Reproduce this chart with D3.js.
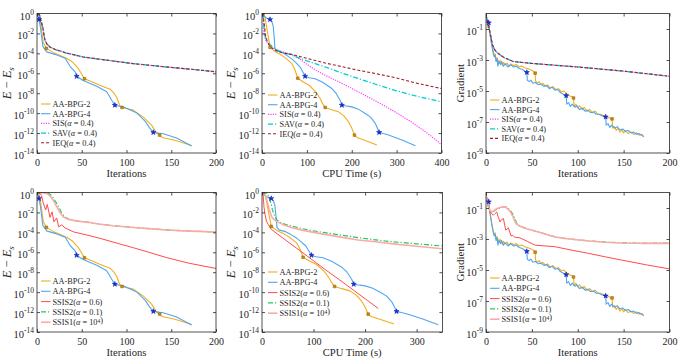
<!DOCTYPE html>
<meta charset="utf-8">
<style>
body { margin: 0; background: #fff; }
svg text { font-family: "Liberation Serif", "DejaVu Serif", serif; fill: #262626; }
.frame { fill: none; stroke: #262626; stroke-width: 0.8; }
.axis path { display: none; }
.axis line { stroke: #262626; stroke-width: 0.8; }
.curve { fill: none; stroke-linejoin: round; stroke-linecap: butt; }
</style>
<svg id="fig" width="692" height="358"></svg>
<script src="https://d3js.org/d3.v7.min.js"></script>
<script>
// tick values
var iterTicks = [0, 50, 100, 150, 200];
var timeTicksTop = [0, 100, 200, 300, 400];
var timeTicksBottom = [0, 100, 200, 300];
var energyExps = [0, -2, -4, -6, -8, -10, -12, -14];
var gradExps = [-1, -3, -5, -7, -9];

// every series is [x, log10(value)]
// E - Es versus iterations
var aa2Iter = [[1,0],[2,-0.1],[3.4,-0.5],[5,-1.6],[7,-2.9],[10.5,-3.5],[20,-4.0],[33,-4.5],[40,-4.9],[46,-5.5],[50,-6.1],[53,-6.55],[60,-6.8],[70,-7.2],[81.6,-7.6],[86,-8.0],[89,-8.4],[92.7,-9.3],[95,-9.43],[107.6,-9.7],[118.8,-10.4],[128,-11.2],[133.7,-12.0],[137,-12.2],[140,-12.45],[155,-12.75],[172.8,-13.25]];
var aa4Iter = [[0.5,-0.1],[2.2,-0.6],[4,-1.5],[6.5,-3.3],[10.8,-3.85],[20,-4.1],[31.5,-4.5],[36.9,-5.3],[42.6,-5.85],[44.3,-6.3],[51,-6.7],[66.7,-7.3],[77.9,-7.85],[83.5,-8.7],[87,-9.2],[96,-9.37],[111,-9.95],[120.7,-10.8],[126,-11.5],[130,-11.93],[141,-12.07],[156,-12.5],[172.8,-13.3]];
var explicitIter = [[1,0],[3,-0.2],[5,-0.9],[6.7,-1.5],[7.9,-2.2],[9,-2.7],[11,-3.05],[14.5,-3.37],[20,-3.6],[33,-3.97],[52,-4.37],[75,-4.65],[107.6,-5.03],[145,-5.37],[175,-5.62],[200,-5.85]];
var ssis06Iter = [[0,0],[3,-0.03],[5,-0.3],[7,-1.05],[9.7,-1.75],[11.5,-1.2],[14.5,-2.5],[16.8,-1.95],[19,-2.95],[22,-2.55],[24.2,-3.45],[27.6,-3.25],[31.3,-3.55],[40.6,-3.95],[55,-4.25],[70.4,-4.6],[92.7,-5.17],[107.6,-5.54],[125,-6.0],[145,-6.54],[170,-7.1],[200,-7.62]];
var ssis01Iter = [[0,0],[8,-0.02],[13,-0.08],[16,-0.3],[18.2,-0.55],[21,-0.95],[23.8,-1.39],[27.6,-2.06],[31.3,-2.5],[37,-2.73],[45,-2.85],[60,-3.02],[70.4,-3.17],[85,-3.33],[107.6,-3.5],[125,-3.62],[145,-3.75],[170,-3.87],[200,-3.96]];
var ssis1Iter = [[0,0],[8,-0.04],[12,-0.15],[15,-0.4],[17,-0.62],[19.5,-1.0],[21.9,-1.39],[25.5,-2.0],[29.5,-2.45],[35,-2.7],[45,-2.87],[60,-3.04],[70.4,-3.18],[85,-3.34],[107.6,-3.51],[125,-3.63],[145,-3.77],[170,-3.88],[200,-3.97]];

// E - Es versus CPU time (s)
var aa2Time = [[1,0],[4,-0.1],[6.7,-0.3],[9,-1.0],[12.7,-2.0],[18,-3.4],[30,-3.85],[44,-4.2],[55,-4.55],[66,-5.0],[72,-5.5],[77.5,-6.2],[79.7,-6.5],[92,-6.87],[105,-7.2],[114.7,-7.63],[122,-8.0],[129.6,-8.53],[135,-9.05],[140.8,-9.43],[155,-9.65],[170.5,-9.87],[183,-10.3],[192.9,-10.87],[200,-11.5],[206,-12.2],[212,-12.45],[230,-12.75],[256,-13.2]];
var aa4Time = [[1,0],[5,-0.3],[10,-0.45],[17.9,-0.6],[22,-0.8],[25,-1.3],[27,-2.3],[29,-3.5],[33,-3.75],[44,-3.9],[55,-4.2],[66.3,-4.55],[76,-4.95],[85,-5.37],[90,-5.8],[96,-6.3],[105,-6.45],[118.4,-6.55],[135,-6.9],[155.7,-7.53],[165,-8.0],[174,-8.7],[178,-9.2],[190,-9.3],[200,-9.37],[215,-9.6],[230,-10.03],[242,-10.4],[252.5,-11.03],[258,-11.6],[261,-11.93],[270,-12.05],[282,-12.2],[300,-12.5],[312,-12.7],[330,-13.05],[342,-13.27]];
var sisTime = [[2,0],[4,-1.4],[5,-2.2],[8,-2.65],[12.7,-2.97],[20,-3.3],[29,-3.6],[45,-3.85],[66,-4.1],[85,-4.6],[103.5,-5.2],[120,-5.7],[140.8,-6.2],[180,-7.05],[215,-7.87],[250,-8.7],[290,-9.7],[330,-10.8],[364,-11.87],[385,-12.6],[398,-13.1]];
var savTime = [[2,0],[4,-1.2],[5.6,-2.0],[10,-2.7],[15,-3.0],[25,-3.4],[34,-3.67],[50,-3.95],[66,-4.17],[100,-4.75],[140.8,-5.37],[180,-6.0],[215,-6.53],[250,-7.05],[290,-7.63],[340,-8.25],[400,-8.87]];
var ieqTime = [[2,0],[3.5,-0.5],[5.6,-1.3],[8,-2.2],[11,-2.7],[15,-3.1],[20,-3.4],[30,-3.7],[45,-3.95],[66,-4.1],[100,-4.5],[140.8,-4.97],[180,-5.35],[215,-5.7],[250,-6.0],[290,-6.37],[340,-6.95],[400,-7.53]];
var ssis06Time = [[0,0],[2,-0.1],[4,-1.5],[6,-2.2],[8.4,-2.85],[12,-3.2],[18,-3.7],[40,-4.55],[70,-5.7],[100,-6.85],[121.8,-7.7],[150,-8.75],[180,-9.9],[205,-10.85],[225.5,-11.64]];
var ssis01Time = [[0,0],[5,-0.03],[10,-0.1],[13,-0.4],[18,-1.17],[20,-1.7],[23,-2.18],[28,-2.7],[35,-3.0],[45,-3.2],[57,-3.36],[80,-3.65],[100,-3.85],[122,-4.03],[150,-4.25],[186.6,-4.53],[220,-4.75],[251,-4.93],[300,-5.15],[350,-5.37]];
var ssis1Time = [[0,0],[4,-0.1],[8,-0.5],[11,-1.1],[15,-1.85],[19,-2.45],[23,-2.7],[30,-2.95],[40,-3.2],[57,-3.52],[80,-3.8],[100,-4.0],[122,-4.2],[150,-4.45],[186.6,-4.77],[220,-4.95],[251,-5.13],[300,-5.4],[350,-5.64]];

// gradient versus iterations
var aa2Grad = [[0,-0.15],[1,-0.4],[2,-0.9],[3,-0.7],[4,-1.3],[5,-1.6],[6,-1.9],[7,-2.2],[8,-2.5],[9,-2.75],[10,-2.6],[11,-3.0],[12,-2.85],[13,-3.3],[14,-3.0],[15,-3.2],[16,-3.05],[18,-3.35],[19,-3.15],[21,-3.3],[23,-3.2],[25,-3.4],[27,-3.25],[30,-3.35],[33,-3.3],[36,-3.45],[39,-3.38],[42,-3.5],[45,-3.55],[48,-3.62],[51,-3.7],[53.6,-3.85],[54,-4.35],[56,-4.5],[58,-4.4],[60,-4.6],[62,-4.5],[65,-4.7],[67,-4.6],[70,-4.8],[73,-4.72],[76,-4.9],[79,-4.85],[82,-5.05],[85,-5.0],[88,-5.2],[91,-5.3],[93,-5.35],[95.4,-5.45],[96,-6.0],[98,-5.85],[100,-6.1],[102,-5.95],[105,-6.2],[107,-6.05],[110,-6.3],[113,-6.2],[116,-6.4],[119,-6.3],[122,-6.5],[125,-6.5],[128,-6.6],[131,-6.65],[134,-6.72],[137.4,-6.8],[138,-7.4],[140,-7.3],[142,-7.55],[144,-7.4],[146,-7.65],[148,-7.5],[150,-7.7],[152,-7.55],[155,-7.75],[158,-7.65],[161,-7.8],[164,-7.7],[167,-7.85],[170,-7.8],[172,-7.95]];
var aa4Grad = [[0,-0.1],[1,-0.5],[2,-0.4],[3,-0.6],[4,-1.1],[5,-1.5],[6,-1.95],[7,-2.3],[8,-2.6],[9,-2.8],[10,-2.7],[11,-3.1],[12,-2.9],[13,-3.4],[14,-3.1],[16,-3.3],[17,-3.1],[19,-3.4],[21,-3.25],[24,-3.45],[27,-3.3],[30,-3.45],[33,-3.4],[36,-3.55],[39,-3.6],[42,-3.7],[44.5,-3.8],[45,-4.3],[47,-4.4],[49,-4.3],[51,-4.5],[54,-4.45],[57,-4.6],[60,-4.55],[63,-4.7],[66,-4.65],[69,-4.85],[72,-4.75],[75,-4.95],[78,-4.9],[81,-5.1],[84,-5.2],[87.4,-5.3],[88,-5.85],[90,-5.75],[92,-6.0],[94,-5.85],[97,-6.05],[99,-5.95],[102,-6.2],[105,-6.1],[108,-6.3],[111,-6.25],[114,-6.4],[117,-6.35],[120,-6.5],[123,-6.5],[126,-6.6],[130.4,-6.67],[131,-7.2],[133,-7.1],[135,-7.35],[137,-7.2],[140,-7.4],[143,-7.3],[146,-7.5],[149,-7.45],[152,-7.6],[155,-7.55],[158,-7.7],[161,-7.65],[164,-7.8],[167,-7.75],[170,-7.88],[172,-7.95]];
var explicitGrad = [[0,-0.1],[2,-0.6],[3,-0.85],[5,-1.4],[7,-2.0],[9,-2.3],[11,-2.45],[13,-2.56],[16,-2.7],[20,-2.85],[24,-2.95],[30,-3.1],[50,-3.22],[100,-3.45],[150,-3.72],[200,-4.05]];
var ssis06Grad = [[0,-0.08],[2,-0.7],[4.4,-1.26],[6,-1.35],[8,-1.47],[10,-1.35],[11.7,-1.26],[13.5,-1.6],[15.3,-1.9],[17,-1.75],[19,-1.68],[21.5,-2.43],[24.4,-2.28],[27.3,-2.8],[29,-2.75],[31,-2.88],[37,-2.93],[45,-3.15],[53.6,-3.4],[65,-3.45],[75.4,-3.5],[93.6,-3.72],[112,-3.93],[130,-4.15],[148,-4.36],[175,-4.67],[200,-4.93]];
var ssis01Grad = [[0,-0.08],[1,-0.5],[2.5,-0.83],[4,-1.1],[6.2,-1.26],[8,-1.22],[9.8,-1.15],[12,-1.07],[15.3,-1.0],[18,-0.93],[20.8,-0.92],[23,-0.98],[24.4,-1.04],[27,-1.2],[30,-1.47],[32,-1.75],[33.5,-2.0],[36,-2.12],[39,-2.22],[45,-2.35],[57,-2.54],[65,-2.68],[75.4,-2.86],[85,-2.95],[93.6,-3.01],[112,-3.12],[130,-3.2],[148,-3.25],[175,-3.27],[200,-3.27]];
var ssis1Grad = [[0,-0.08],[1,-0.55],[2.5,-0.85],[4,-1.12],[6.2,-1.27],[8,-1.2],[9.8,-1.12],[12,-1.03],[15.3,-0.97],[18,-0.92],[20.8,-0.93],[23,-1.02],[26,-1.2],[29,-1.5],[31,-1.8],[33,-2.02],[36,-2.14],[39,-2.23],[45,-2.36],[57,-2.55],[65,-2.69],[75.4,-2.87],[85,-2.96],[93.6,-3.02],[112,-3.13],[130,-3.21],[148,-3.26],[175,-3.28],[200,-3.28]];

// restart markers
var aa2IterMarks = [[10.5,-3.5],[53,-6.55],[95,-9.43],[137,-12.2]];
var aa4IterMarks = [[2.2,-0.6],[44.3,-6.3],[87,-9.2],[130,-11.93]];
var aa2TimeMarks = [[18,-3.4],[79.7,-6.5],[140.8,-9.43],[206,-12.2]];
var aa4TimeMarks = [[17.9,-0.6],[96,-6.3],[178,-9.2],[261,-11.93]];
var aa2GradMarks = [[53.6,-3.85],[95.4,-5.45],[137.4,-6.8]];
var aa4GradMarks = [[3,-0.6],[44.5,-3.8],[87.4,-5.3],[130.4,-6.67]];

var styles = {
  aa2: {color: "#F0AE1E", dash: null, w: 1.1, label: [["AA-BPG-2"]]},
  aa4: {color: "#4FA6F2", dash: null, w: 1.1, label: [["AA-BPG-4"]]},
  sis: {color: "#FF3DFF", dash: "1.2,1.2", w: 1.2, label: [["SIS("], ["α", "i"], [" = 0.4)"]]},
  sav: {color: "#00CED1", dash: "5,2,1.2,2", w: 1.3, label: [["SAV("], ["α", "i"], [" = 0.4)"]]},
  ieq: {color: "#A51C24", dash: "3,2", w: 1.1, label: [["IEQ("], ["α", "i"], [" = 0.4)"]]},
  s06: {color: "#FF4B4B", dash: null, w: 1, label: [["SSIS2("], ["α", "i"], [" = 0.6)"]]},
  s01: {color: "#1FCB5C", dash: "5,2,1.2,2", w: 1.2, label: [["SSIS2("], ["α", "i"], [" = 0.1)"]]},
  s1: {color: "#FFA8A8", dash: null, w: 1.6, label: [["SSIS1("], ["α", "i"], [" = 10"], ["4", "sup"], [")"]]}
};

var panels = [
  {box: [37, 13.5, 216, 153], xDom: [0, 200], yDom: [-14, 0], xTicks: iterTicks, yTicks: energyExps,
   xTitle: "Iterations", yTitle: "E", yTitleX: 7,
   lines: [["aa2", aa2Iter], ["aa4", aa4Iter], ["sis", explicitIter], ["sav", explicitIter], ["ieq", explicitIter]],
   marks: [["aa2", aa2IterMarks], ["aa4", aa4IterMarks]], legend: [41, 104, 9.7]},
  {box: [262, 13.5, 441.5, 153], xDom: [0, 400], yDom: [-14, 0], xTicks: timeTicksTop, yTicks: energyExps,
   xTitle: "CPU Time (s)", yTitle: "E", yTitleX: 231,
   lines: [["aa2", aa2Time], ["aa4", aa4Time], ["sis", sisTime], ["sav", savTime], ["ieq", ieqTime]],
   marks: [["aa2", aa2TimeMarks], ["aa4", aa4TimeMarks]], legend: [268, 95, 9.7]},
  {box: [486, 13.5, 669.5, 153], xDom: [0, 200], yDom: [-9, 0], xTicks: iterTicks, yTicks: gradExps,
   xTitle: "Iterations", yTitle: "Gradient", yTitleX: 460,
   lines: [["aa2", aa2Grad], ["aa4", aa4Grad], ["sis", explicitGrad], ["sav", explicitGrad], ["ieq", explicitGrad]],
   marks: [["aa2", aa2GradMarks], ["aa4", aa4GradMarks]], legend: [490, 100, 9.6]},
  {box: [37, 192.5, 216, 332], xDom: [0, 200], yDom: [-14, 0], xTicks: iterTicks, yTicks: energyExps,
   xTitle: "Iterations", yTitle: "E", yTitleX: 7,
   lines: [["aa2", aa2Iter], ["aa4", aa4Iter], ["s06", ssis06Iter], ["s01", ssis01Iter], ["s1", ssis1Iter]],
   marks: [["aa2", aa2IterMarks], ["aa4", aa4IterMarks]], legend: [41, 281, 10.3]},
  {box: [262, 192.5, 442.4, 332], xDom: [0, 350], yDom: [-14, 0], xTicks: timeTicksBottom, yTicks: energyExps,
   xTitle: "CPU Time (s)", yTitle: "E", yTitleX: 231,
   lines: [["aa2", aa2Time], ["aa4", aa4Time], ["s06", ssis06Time], ["s01", ssis01Time], ["s1", ssis1Time]],
   marks: [["aa2", aa2TimeMarks], ["aa4", aa4TimeMarks]], legend: [268, 272, 10.3]},
  {box: [486, 192.5, 669.5, 332], xDom: [0, 200], yDom: [-9, 0], xTicks: iterTicks, yTicks: gradExps,
   xTitle: "Iterations", yTitle: "Gradient", yTitleX: 460,
   lines: [["aa2", aa2Grad], ["aa4", aa4Grad], ["s06", ssis06Grad], ["s01", ssis01Grad], ["s1", ssis1Grad]],
   marks: [["aa2", aa2GradMarks], ["aa4", aa4GradMarks]], legend: [490, 278, 10.3]}
];

var svg = d3.select("#fig");

function addParts(text, parts) {
  parts.forEach(function(p) {
    var ts = text.append("tspan").text(p[0]);
    if (p[1] === "i") ts.attr("font-style", "italic");
    if (p[1] === "sup") {
      ts.attr("font-size", 5.5).attr("dy", -2);
      text.append("tspan").attr("dy", 2).text("");
    }
  });
}

panels.forEach(function(p, pi) {
  var L = p.box[0], T = p.box[1], R = p.box[2], B = p.box[3];
  var x = d3.scaleLinear().domain(p.xDom).range([L, R]);
  var y = d3.scaleLog().domain([Math.pow(10, p.yDom[0]), Math.pow(10, p.yDom[1])]).range([B, T]);
  var g = svg.append("g");

  g.append("clipPath").attr("id", "clip" + pi)
    .append("rect").attr("x", L).attr("y", T - 1).attr("width", R - L).attr("height", B - T + 1);

  var line = d3.line()
    .x(function(d) { return x(d[0]); })
    .y(function(d) { return y(Math.pow(10, d[1])); });

  var plot = g.append("g").attr("clip-path", "url(#clip" + pi + ")");
  p.lines.forEach(function(s) {
    var st = styles[s[0]];
    plot.append("path")
      .datum(s[1])
      .attr("class", "curve")
      .attr("d", line)
      .attr("stroke", st.color)
      .attr("stroke-width", st.w)
      .attr("stroke-dasharray", st.dash);
  });

  // restart markers
  p.marks.forEach(function(m) {
    var isSq = m[0] === "aa2";
    plot.selectAll(null)
      .data(m[1])
      .enter().append("path")
      .attr("transform", function(d) { return "translate(" + x(d[0]) + "," + y(Math.pow(10, d[1])) + ")"; })
      .attr("d", d3.symbol().type(isSq ? d3.symbolSquare : d3.symbolStar).size(isSq ? 7 : 8))
      .attr("fill", isSq ? "#C98A14" : "#1A2ED8")
      .attr("stroke", isSq ? "#9C6A0A" : "#1020B0")
      .attr("stroke-width", 0.6);
  });

  // axes with inward ticks on all sides
  var ax = g.append("g").attr("class", "axis").attr("transform", "translate(0," + B + ")")
    .call(d3.axisBottom(x).tickValues(p.xTicks).tickSize(-3).tickPadding(5.6).tickFormat(d3.format("d")));
  ax.attr("font-size", 10);
  g.append("g").attr("class", "axis").attr("transform", "translate(0," + T + ")")
    .call(d3.axisTop(x).tickValues(p.xTicks).tickSize(-3).tickFormat(""));
  var yv = p.yTicks.map(function(e) { return Math.pow(10, e); });
  g.append("g").attr("class", "axis").attr("transform", "translate(" + L + ",0)")
    .call(d3.axisLeft(y).tickValues(yv).tickSize(-3).tickFormat(""));
  g.append("g").attr("class", "axis").attr("transform", "translate(" + R + ",0)")
    .call(d3.axisRight(y).tickValues(yv).tickSize(-3).tickFormat(""));

  // y tick labels 10^e
  p.yTicks.forEach(function(e) {
    var t = g.append("text")
      .attr("x", L - 3)
      .attr("y", y(Math.pow(10, e)) + 6)
      .attr("text-anchor", "end")
      .attr("font-size", 10.5);
    t.append("tspan").text("10");
    t.append("tspan").attr("dy", -5).attr("font-size", 7.5).text(e < 0 ? "-" + (-e) : String(e));
  });

  g.append("rect").attr("class", "frame")
    .attr("x", L).attr("y", T).attr("width", R - L).attr("height", B - T);

  // axis titles
  g.append("text")
    .attr("x", (L + R) / 2)
    .attr("y", B + 24.3)
    .attr("text-anchor", "middle")
    .attr("font-size", 10.6)
    .text(p.xTitle);

  var yt = g.append("text")
    .attr("transform", "translate(" + p.yTitleX + "," + ((T + B) / 2) + ") rotate(-90)")
    .attr("dy", "0.35em")
    .attr("text-anchor", "middle")
    .attr("font-size", 11);
  if (p.yTitle === "E") {
    yt.attr("font-size", 12.5);
    yt.append("tspan").attr("font-style", "italic").text("E");
    yt.append("tspan").text(" \u2212 ");
    yt.append("tspan").attr("font-style", "italic").text("E");
    yt.append("tspan").attr("font-style", "italic").attr("font-size", 9).attr("dy", 2.5).text("s");
  } else {
    yt.text(p.yTitle);
  }

  // legend, no box
  var lg = g.append("g");
  p.lines.forEach(function(s, i) {
    var st = styles[s[0]];
    var ly = p.legend[1] + i * p.legend[2];
    lg.append("line")
      .attr("x1", p.legend[0]).attr("x2", p.legend[0] + 9.5)
      .attr("y1", ly).attr("y2", ly)
      .attr("stroke", st.color)
      .attr("stroke-width", st.w)
      .attr("stroke-dasharray", st.dash);
    var t = lg.append("text")
      .attr("x", p.legend[0] + 11.5)
      .attr("y", ly + 3)
      .attr("font-size", 8.3);
    addParts(t, st.label);
  });
});
</script>
